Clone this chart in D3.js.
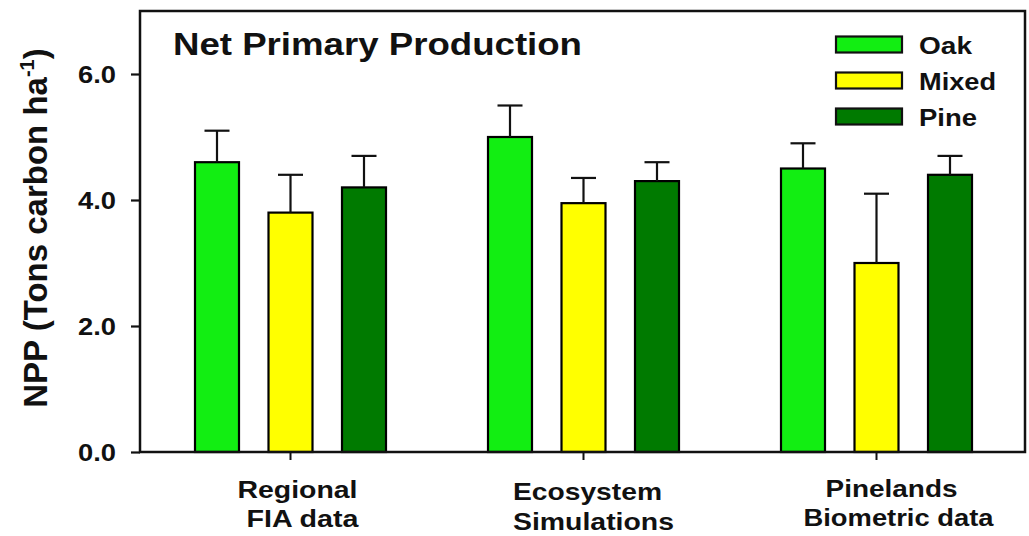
<!DOCTYPE html>
<html>
<head>
<meta charset="utf-8">
<script src="https://cdn.jsdelivr.net/npm/d3@7"></script>
<style>
  html, body { margin: 0; padding: 0; background: #ffffff; }
  svg { display: block; }
  text { font-family: "Liberation Sans", Arial, Helvetica, sans-serif; font-weight: bold; fill: #111; }
</style>
</head>
<body>
<svg id="chart" width="1029" height="536"></svg>
<script>
// Forest types and the data sources they were estimated from
const categories = ["Regional FIA data", "Ecosystem Simulations", "Pinelands Biometric data"];
const categoryLines = [["Regional", "FIA data"], ["Ecosystem", "Simulations"], ["Pinelands", "Biometric data"]];
const seriesNames = ["Oak", "Mixed", "Pine"];

// Mean NPP (tons carbon per ha) and upper error (one SE)
const oakValues = [4.6, 5.0, 4.5];
const oakErrors = [0.5, 0.5, 0.4];
const mixedValues = [3.8, 3.95, 3.0];
const mixedErrors = [0.6, 0.4, 1.1];
const pineValues = [4.2, 4.3, 4.4];
const pineErrors = [0.5, 0.3, 0.3];

const yTicks = [0, 2, 4, 6];
const seriesColors = ["#12ee12", "#ffff00", "#007a00"];

const seriesValues = [oakValues, mixedValues, pineValues];
const seriesErrors = [oakErrors, mixedErrors, pineErrors];

const rows = [];
seriesNames.forEach((s, si) => {
  categories.forEach((c, ci) => {
    rows.push({ series: s, category: c, value: seriesValues[si][ci], err: seriesErrors[si][ci], color: seriesColors[si] });
  });
});

const svg = d3.select("#chart");

// Plot frame
const frame = { left: 140, right: 1025, top: 11, bottom: 452 };

const y = d3.scaleLinear().domain([0, 7]).range([frame.bottom, frame.top]);
const x0 = d3.scaleBand().domain(categories).range([144, 1023]);
const groupWidth = 220.5;
const x1 = d3.scaleBand().domain(seriesNames).range([0, groupWidth]).paddingInner(0.4014).paddingOuter(0.2007);
const groupStart = c => x0(c) + x0.bandwidth() / 2 - groupWidth / 2;

// Bars
svg.append("g").selectAll("rect")
  .data(rows)
  .join("rect")
  .attr("x", d => groupStart(d.category) + x1(d.series))
  .attr("y", d => y(d.value))
  .attr("width", x1.bandwidth())
  .attr("height", d => y(0) - y(d.value))
  .attr("fill", d => d.color)
  .attr("stroke", "#000")
  .attr("stroke-width", 2.2);

// Upper error bars
const eb = svg.append("g").attr("stroke", "#111").attr("stroke-width", 2.2);
rows.forEach(d => {
  const cx = groupStart(d.category) + x1(d.series) + x1.bandwidth() / 2;
  eb.append("line").attr("x1", cx).attr("x2", cx).attr("y1", y(d.value)).attr("y2", y(d.value + d.err));
  eb.append("line").attr("x1", cx - 12.5).attr("x2", cx + 12.5).attr("y1", y(d.value + d.err)).attr("y2", y(d.value + d.err));
});

// Frame box
svg.append("rect")
  .attr("x", frame.left).attr("y", frame.top)
  .attr("width", frame.right - frame.left).attr("height", frame.bottom - frame.top)
  .attr("fill", "none").attr("stroke", "#111").attr("stroke-width", 2.5);

// Y axis
const yAxis = svg.append("g")
  .attr("transform", `translate(${frame.left},0)`)
  .call(d3.axisLeft(y).tickValues(yTicks).tickSize(9).tickPadding(0).tickFormat(d3.format(".1f")));
yAxis.select(".domain").remove();
yAxis.selectAll(".tick line").attr("stroke", "#111").attr("stroke-width", 2.2);
yAxis.selectAll(".tick text")
  .attr("x", -24)
  .attr("dy", "0.36em")
  .attr("font-size", 23)
  .attr("font-family", "Liberation Sans, Arial, sans-serif")
  .attr("font-weight", "bold")
  .attr("fill", "#111")
  .attr("textLength", 38)
  .attr("lengthAdjust", "spacingAndGlyphs");

// X axis: ticks at group centres, labels as two lines
const xAxis = svg.append("g")
  .attr("transform", `translate(0,${frame.bottom})`)
  .call(d3.axisBottom(x0).tickSize(8).tickFormat(""));
xAxis.select(".domain").remove();
xAxis.selectAll(".tick line").attr("stroke", "#111").attr("stroke-width", 2);

const labelShift = [[7, 12], [4, 10], [15, 22]];
const labelWidths = [[120, 112], [149, 161], [132, 190]];
const labelBaselines = [[498, 527], [500, 530], [497, 526]];
categories.forEach((c, ci) => {
  const cx = x0(c) + x0.bandwidth() / 2;
  categoryLines[ci].forEach((line, li) => {
    svg.append("text")
      .attr("x", cx + labelShift[ci][li])
      .attr("y", labelBaselines[ci][li])
      .attr("text-anchor", "middle")
      .attr("font-size", 24)
      .attr("textLength", labelWidths[ci][li])
      .attr("lengthAdjust", "spacingAndGlyphs")
      .text(line);
  });
});

// Y axis title with superscript
const yTitle = svg.append("text")
  .attr("transform", "translate(47,228) rotate(-90)")
  .attr("text-anchor", "middle")
  .attr("font-size", 33);
yTitle.append("tspan").text("NPP (Tons carbon ha");
yTitle.append("tspan").attr("font-size", 20).attr("dy", -13).text("-1");
yTitle.append("tspan").attr("dy", 13).text(")");

// Chart title
svg.append("text")
  .attr("x", 173).attr("y", 55)
  .attr("font-size", 31)
  .attr("textLength", 409)
  .attr("lengthAdjust", "spacingAndGlyphs")
  .text("Net Primary Production");

// Legend
const legendWidths = [53, 77, 58];
const legend = svg.append("g");
seriesNames.forEach((s, i) => {
  const cy = 44.5 + i * 36;
  legend.append("rect")
    .attr("x", 836).attr("y", cy - 8)
    .attr("width", 66).attr("height", 16)
    .attr("fill", seriesColors[i])
    .attr("stroke", "#111").attr("stroke-width", 2.2);
  legend.append("text")
    .attr("x", 919).attr("y", cy + 9)
    .attr("font-size", 23)
    .attr("textLength", legendWidths[i])
    .attr("lengthAdjust", "spacingAndGlyphs")
    .text(s);
});
</script>
</body>
</html>
